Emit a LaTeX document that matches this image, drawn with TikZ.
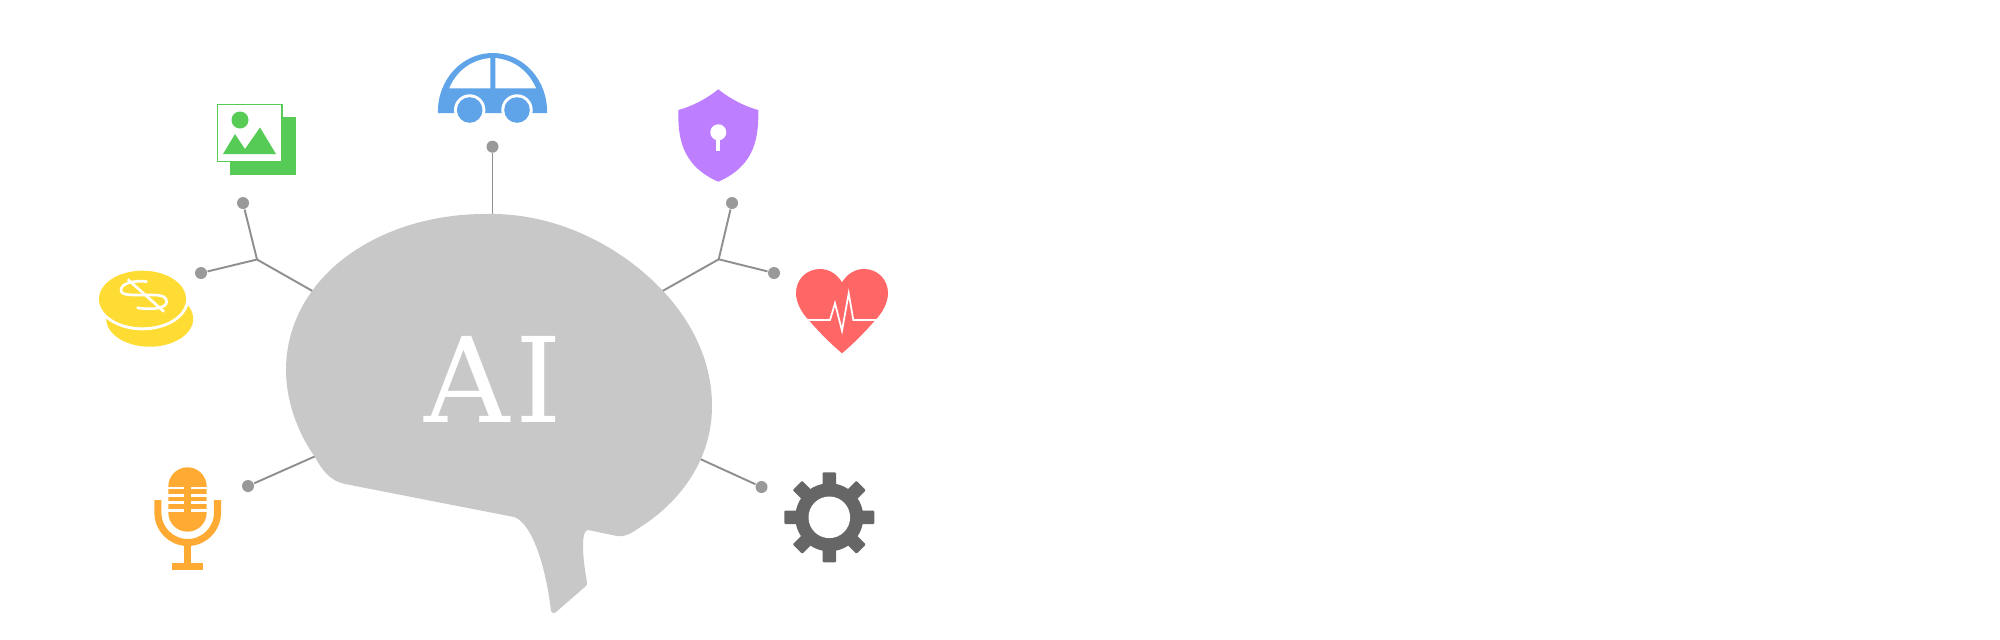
\documentclass[tikz,border=0pt]{standalone}
\usepackage{fontspec}
\newfontfamily\labelfont{DejaVu Serif}
\definecolor{blobgray}{HTML}{C8C8C8}
\definecolor{wiregray}{HTML}{8F8F8F}
\definecolor{dotgray}{HTML}{999999}
\definecolor{picgreen}{HTML}{56CC56}
\definecolor{carblue}{HTML}{5FA3E8}
\definecolor{shieldpurple}{HTML}{BD7FFF}
\definecolor{heartred}{HTML}{FF6666}
\definecolor{coinyellow}{HTML}{FFDC33}
\definecolor{micorange}{HTML}{FFAA33}
\definecolor{geargray}{HTML}{666666}
\begin{document}
\begin{tikzpicture}[x=0.01cm,y=-0.01cm,
	tipdot/.style={circle,fill=dotgray,inner sep=0pt,minimum size=1.2mm},
	wire/.style={color=wiregray,line width=0.55pt}]
	\useasboundingbox (0,0) rectangle (2000,639);

	\node[tipdot] (dotcar) at (492.5,146.7) {};
	\node[tipdot] (dotpic) at (243,203) {};
	\node[tipdot] (dotcoin) at (201,273) {};
	\node[tipdot] (dotmic) at (248,486) {};
	\node[tipdot] (dotshield) at (732,203) {};
	\node[tipdot] (dotheart) at (774,273) {};
	\node[tipdot] (dotgear) at (761.5,487) {};
	\coordinate (hubleft) at (257,259.5);
	\coordinate (hubright) at (718.7,259.3);
	\coordinate (blobtop) at (492.5,218);
	\coordinate (blobleft) at (316,293);
	\coordinate (blobright) at (659,293);
	\coordinate (bloblow) at (318,455);
	\coordinate (blobgear) at (698,458);
	\draw[wire] (dotcar) -- (blobtop);
	\draw[wire] (dotpic) -- (hubleft);
	\draw[wire] (dotcoin) -- (hubleft);
	\draw[wire] (hubleft) -- (blobleft);
	\draw[wire] (dotshield) -- (hubright);
	\draw[wire] (dotheart) -- (hubright);
	\draw[wire] (hubright) -- (blobright);
	\draw[wire] (dotmic) -- (bloblow);
	\draw[wire] (dotgear) -- (blobgear);

	\fill[blobgray] (485,214) .. controls (560,212) and (625,250) .. (663,291)
		.. controls (695,325) and (712,365) .. (712,406)
		.. controls (712,458) and (682,500) .. (642,526)
		.. controls (632,532.5) and (627,537) .. (617,536)
		-- (588,530) .. controls (581,530) and (582,555) .. (587,582)
		.. controls (587,584) and (587,585) .. (586,586)
		-- (556,612) .. controls (553,614) and (552,613) .. (551,611)
		.. controls (545,560) and (530,522) .. (514,517)
		-- (345,484) .. controls (330,481) and (322,470) .. (315,457)
		.. controls (297,432) and (286,400) .. (286,370)
		.. controls (286,340) and (296,313) .. (312,291)
		.. controls (345,245) and (410,214) .. (485,214) -- cycle;
	\node[inner sep=0pt,text=white,font=\labelfont\fontsize{33.6}{36}\selectfont] (bloblabel) at (493,379) {A\kern1.6pt I};

	\fill[picgreen] (230,117) rectangle (296,175);
	\draw[picgreen,fill=white,line width=0.5pt] (217.5,104.5) rectangle (282,161.5);
	\fill[picgreen] (240,120) circle (8.5);
	\fill[picgreen] (223,154) -- (235,134) -- (245,149) -- (260,127.5) -- (276,154) -- cycle;

	\fill[carblue] (438,113) .. controls (437,80) and (462,53) .. (492.7,53)
		.. controls (523,53) and (548,80) .. (547,113) -- cycle;
	\fill[white] (449.3,88.3) .. controls (456,72) and (470,60) .. (490.3,58) -- (490.3,88.3) -- cycle;
	\fill[white] (536,88.3) .. controls (529,72) and (515,60) .. (495.3,58) -- (495.3,88.3) -- cycle;
	\foreach \wheelx in {469.7,517} {
		\fill[white] (\wheelx,110) circle (15.7);
		\fill[carblue] (\wheelx,110) circle (12.8);
	}

	\fill[shieldpurple] (718.3,89.3) .. controls (705,100) and (690,107) .. (678.3,110)
		.. controls (678,135) and (680,165) .. (718.3,181.7)
		.. controls (756.6,165) and (758.6,135) .. (758.3,110)
		.. controls (746.6,107) and (731.6,100) .. (718.3,89.3) -- cycle;
	\fill[white] (718.3,132.3) circle (8);
	\fill[white] (716.3,135) rectangle (720.3,150.7);

	\fill[heartred] (842,282.3) .. controls (837,274) and (829,269) .. (820,269)
		.. controls (806,269) and (796,280) .. (796,293)
		.. controls (796,303) and (802,313) .. (808,319.3)
		.. controls (820,333) and (831,344) .. (842,353.3)
		.. controls (853,344) and (864,333) .. (876,319.3)
		.. controls (882,313) and (888,303) .. (888,293)
		.. controls (888,280) and (878,269) .. (864,269)
		.. controls (855,269) and (847,274) .. (842,282.3) -- cycle;
	\draw[white,line width=0.5pt] (808,320) -- (830,320) -- (835,303.3) -- (842,330.7)
		-- (848.7,293.3) -- (853.3,320) -- (876,320);

	\fill[coinyellow] (149.7,318.7) ellipse (43.5 and 28);
	\fill[white] (142.5,299) ellipse (46.5 and 31.3);
	\fill[coinyellow] (142.5,299) ellipse (43.5 and 28.3);
	\draw[white,line width=0.75pt] (127.7,279.3) -- (164,311.7);
	\draw[white,line width=0.75pt] (147.3,281.7) .. controls (135,280) and (121,283) .. (121,290)
		.. controls (121,296) and (132,295) .. (153,295)
		.. controls (162,295) and (167,297) .. (166.7,302)
		.. controls (166,309) and (150,310) .. (136.7,307.7);

	\fill[micorange] (168.3,486.5) arc[start angle=180,end angle=360,radius=19.2]
		-- (206.7,512.5) arc[start angle=0,end angle=180,radius=19.2] -- cycle;
	\foreach \stripey in {488,495.3,502.7,510.3} {
		\fill[white] (168.3,\stripey-1.3) rectangle (184.3,\stripey+1.3);
		\fill[white] (190.7,\stripey-1.3) rectangle (206.7,\stripey+1.3);
	}
	\draw[micorange,line width=2pt] (157.9,500) -- (157.9,512.7) arc[start angle=180,end angle=0,radius=29.8] -- (217.5,500);
	\fill[micorange] (184.3,543) rectangle (190.7,563);
	\fill[micorange] (171.7,562.7) rectangle (203.3,570);

	\foreach \gearang in {0,45,...,315} {
		\fill[geargray,rotate around={\gearang:(829.3,517.3)},rounded corners=0.3pt] (822.6,517.3) rectangle (836,472.3);
	}
	\fill[geargray] (829.3,517.3) circle (34);
	\fill[white] (829.3,517.3) circle (20.8);
\end{tikzpicture}
\end{document}
